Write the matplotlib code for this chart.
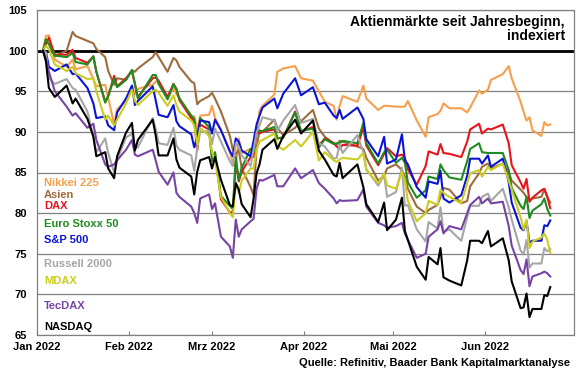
import pandas as pd
import matplotlib.pyplot as plt
import matplotlib.dates as mdates

dates = pd.to_datetime([
    "2022-01-03", "2022-01-04", "2022-01-05", "2022-01-07", "2022-01-11", "2022-01-13", "2022-01-14",
    "2022-01-18", "2022-01-20", "2022-01-21", "2022-01-24", "2022-01-25", "2022-01-27", "2022-01-28",
    "2022-01-31",
    "2022-02-02", "2022-02-03", "2022-02-04", "2022-02-09", "2022-02-10", "2022-02-11", "2022-02-14",
    "2022-02-16", "2022-02-17", "2022-02-18", "2022-02-22", "2022-02-23", "2022-02-24", "2022-02-25",
    "2022-02-28",
    "2022-03-01", "2022-03-02", "2022-03-04", "2022-03-07", "2022-03-08", "2022-03-09", "2022-03-10",
    "2022-03-11", "2022-03-14", "2022-03-15", "2022-03-16", "2022-03-17", "2022-03-18", "2022-03-22",
    "2022-03-23", "2022-03-25", "2022-03-29", "2022-03-31",
    "2022-04-04", "2022-04-06", "2022-04-08", "2022-04-11", "2022-04-12", "2022-04-13", "2022-04-14",
    "2022-04-19", "2022-04-21", "2022-04-22", "2022-04-26", "2022-04-28", "2022-04-29",
    "2022-05-02", "2022-05-04", "2022-05-05", "2022-05-06", "2022-05-09", "2022-05-12", "2022-05-13",
    "2022-05-16", "2022-05-17", "2022-05-18", "2022-05-20", "2022-05-24", "2022-05-26", "2022-05-27",
    "2022-05-30", "2022-05-31",
    "2022-06-02", "2022-06-03", "2022-06-07", "2022-06-09", "2022-06-10", "2022-06-13", "2022-06-14",
    "2022-06-15", "2022-06-16", "2022-06-17", "2022-06-20", "2022-06-21", "2022-06-22", "2022-06-23",
])

nikkei = [100, 101.8, 101.9, 98.9, 98.0, 98.9, 97.7, 98.1, 96.5, 95.6, 95.8, 94.2, 90.9, 92.8, 93.8,
          95.6, 94.6, 95.3, 95.8, 96.2, 96.2, 94.1, 95.4, 94.6, 94.2, 91.9, 91.9, 90.2, 92.0, 92.1,
          93.2, 91.7, 90.3, 87.6, 86.1, 85.8, 89.2, 87.4, 87.9, 88.0, 89.5, 92.6, 93.2, 94.6, 97.4, 97.8, 98.1, 96.6,
          96.3, 95.0, 93.7, 93.2, 91.5, 93.2, 94.4, 93.7, 95.7, 94.1, 92.7, 93.2, 93.2,
          93.1, 93.1, 93.1, 93.8, 91.4, 89.4, 91.8, 92.2, 92.6, 93.5, 92.9, 92.9, 92.4, 93.0, 95.1, 94.7,
          95.2, 96.4, 97.1, 98.1, 96.6, 93.7, 92.5, 91.4, 91.8, 90.2, 89.5, 91.2, 90.8, 90.9]

asien = [100, 101.0, 100.9, 99.3, 100.0, 102.3, 101.8, 101.2, 100.9, 100.2, 99.2, 97.5, 95.8, 96.6, 96.4,
         97.6, 97.4, 97.8, 99.2, 99.8, 99.2, 97.4, 99.1, 98.8, 98.0, 96.2, 96.0, 93.4, 93.8, 94.4,
         94.8, 94.1, 92.5, 89.5, 87.8, 87.2, 87.8, 85.5, 83.2, 82.2, 88.0, 90.2, 90.0, 91.5, 90.5, 89.6, 90.5, 91.3,
         92.7, 90.4, 89.4, 88.6, 88.4, 88.9, 88.8, 88.2, 87.9, 86.8, 84.0, 84.6, 85.5,
         86.0, 85.3, 84.5, 83.0, 80.8, 80.0, 80.4, 81.0, 82.0, 83.1, 82.9, 81.2, 81.5, 83.3, 84.9, 85.7,
         86.1, 85.5, 86.1, 85.0, 84.0, 82.9, 82.5, 82.0, 81.6, 81.8, 82.0, 82.9, 82.0, 81.3]

dax = [100, 100.8, 101.6, 99.5, 99.5, 100.1, 99.1, 98.5, 99.3, 97.4, 93.7, 94.4, 96.9, 95.6, 96.6,
       97.5, 95.9, 94.3, 96.6, 96.7, 96.3, 94.3, 95.9, 95.3, 93.9, 91.7, 91.3, 87.7, 90.9, 90.3,
       86.8, 87.4, 81.7, 80.1, 80.1, 86.4, 83.9, 85.1, 86.9, 86.9, 90.1, 89.8, 90.0, 90.3, 89.2, 89.3, 92.5, 90.0,
       90.6, 88.3, 89.2, 88.6, 88.2, 87.9, 88.4, 88.3, 90.5, 88.3, 85.9, 87.3, 88.0,
       87.0, 87.2, 86.8, 85.4, 83.5, 85.8, 87.6, 87.2, 88.5, 87.4, 87.3, 86.9, 88.8, 90.3, 91.0, 89.8,
       90.4, 90.3, 90.9, 88.6, 85.9, 83.8, 83.0, 84.2, 81.4, 81.9, 82.8, 83.0, 82.0, 80.6]

eurostoxx = [100, 101.4, 100.8, 99.4, 99.2, 99.7, 98.6, 98.3, 99.3, 97.4, 93.6, 94.4, 96.6, 95.5, 96.4,
             97.6, 95.9, 94.1, 97.0, 97.0, 95.9, 94.0, 95.9, 95.2, 94.1, 92.0, 91.6, 88.4, 91.7, 90.6,
             86.4, 87.5, 82.1, 80.9, 80.5, 86.9, 84.1, 85.6, 87.9, 87.5, 90.5, 90.1, 90.1, 90.6, 89.2, 89.3, 92.4, 90.1,
             90.4, 88.1, 89.1, 88.5, 88.6, 88.6, 88.9, 88.6, 91.1, 88.6, 86.1, 87.5, 87.8,
             86.2, 86.8, 86.2, 83.8, 81.9, 82.8, 84.5, 84.2, 86.0, 85.3, 84.4, 84.1, 86.4, 87.9, 88.6, 87.5,
             87.4, 87.4, 87.4, 85.3, 83.1, 80.9, 80.5, 82.0, 79.4, 80.3, 81.1, 81.8, 80.5, 79.7]

sp500 = [100, 99.9, 98.0, 97.5, 98.3, 97.1, 97.2, 95.4, 93.5, 91.7, 91.9, 90.8, 90.2, 92.4, 94.1,
         95.7, 93.3, 93.8, 95.6, 93.9, 92.1, 91.8, 93.3, 91.3, 90.7, 89.7, 88.1, 89.4, 91.4, 91.2,
         89.8, 91.5, 90.2, 87.6, 87.0, 89.2, 88.8, 87.7, 87.0, 88.9, 90.9, 92.0, 93.0, 94.1, 92.9, 94.7, 96.6, 94.5,
         95.5, 93.4, 93.6, 92.0, 91.7, 92.7, 91.6, 93.0, 91.6, 89.1, 87.0, 89.4, 86.1,
         86.6, 89.7, 86.5, 86.0, 83.2, 81.9, 83.9, 83.6, 85.2, 81.8, 81.3, 82.2, 84.6, 86.7, 86.7, 86.1,
         87.1, 85.7, 86.7, 83.8, 81.3, 78.2, 77.9, 79.0, 76.4, 76.6, 76.6, 78.5, 78.4, 79.1]

russell = [100, 99.8, 96.6, 95.9, 96.5, 95.4, 95.2, 92.5, 89.4, 87.5, 89.2, 87.4, 85.0, 86.6, 89.3,
           89.8, 88.1, 88.1, 91.7, 90.4, 88.6, 88.4, 90.5, 88.3, 87.8, 87.1, 85.2, 88.0, 90.0, 90.1,
           88.5, 90.4, 88.8, 86.4, 85.8, 88.6, 88.2, 87.1, 85.8, 87.8, 89.9, 90.8, 91.8, 91.4, 90.1, 91.4, 93.3, 91.1,
           91.6, 88.6, 88.2, 86.7, 86.8, 88.5, 87.4, 89.6, 87.5, 85.4, 83.4, 84.7, 82.0,
           82.6, 85.6, 80.9, 81.0, 78.0, 76.5, 78.9, 78.1, 80.7, 77.7, 78.0, 76.6, 79.5, 80.9, 80.9, 82.0,
           82.4, 81.5, 83.0, 80.7, 79.2, 75.4, 74.9, 76.7, 73.3, 73.8, 73.8, 75.7, 75.3, 75.6]

mdax = [100, 100.6, 100.2, 98.3, 97.5, 98.0, 97.2, 96.5, 96.6, 95.0, 91.5, 92.0, 90.8, 91.5, 93.5,
        95.2, 93.8, 93.3, 95.0, 95.2, 94.8, 93.2, 94.5, 93.3, 92.5, 91.4, 90.8, 88.5, 90.5, 89.5,
        87.5, 86.5, 82.0, 80.0, 79.5, 83.7, 82.5, 84.0, 85.5, 85.5, 87.8, 88.8, 89.0, 89.8, 88.3, 87.8, 89.0, 88.2,
        90.0, 86.5, 87.5, 86.5, 86.3, 86.6, 86.8, 86.6, 87.4, 85.3, 83.7, 84.9, 83.4,
        83.0, 85.1, 84.0, 81.5, 79.0, 80.0, 81.5, 81.0, 82.9, 82.5, 82.0, 81.2, 83.7, 84.9, 85.3, 84.5,
        85.7, 85.3, 86.1, 84.0, 82.9, 79.5, 78.0, 79.2, 75.7, 76.5, 77.0, 77.5, 76.7, 75.1]

tecdax = [100, 99.0, 97.4, 95.0, 93.1, 92.0, 92.3, 90.5, 91.0, 89.0, 86.0, 85.7, 86.0, 86.5, 87.8,
          89.0, 87.2, 87.0, 87.8, 86.5, 85.1, 83.5, 85.0, 82.5, 82.0, 80.8, 80.0, 78.8, 81.8, 82.3,
          80.5, 81.2, 77.1, 75.9, 74.5, 79.2, 77.1, 78.0, 79.0, 79.3, 83.0, 84.1, 84.0, 84.7, 83.3, 83.3, 85.5, 84.3,
          85.3, 83.7, 83.0, 81.8, 81.2, 81.6, 81.5, 81.6, 82.9, 80.8, 78.8, 78.5, 78.2,
          78.4, 78.8, 77.5, 76.7, 74.5, 75.0, 77.1, 78.0, 79.0, 77.5, 78.4, 78.0, 80.0, 81.0, 82.0, 81.2,
          81.8, 81.2, 81.4, 78.4, 76.0, 73.0, 72.5, 74.3, 71.0, 72.2, 72.6, 72.8, 72.6, 72.2]

nasdaq = [100, 98.7, 95.4, 94.3, 95.7, 93.5, 94.1, 91.6, 89.4, 87.0, 87.5, 85.5, 84.3, 87.0, 89.9,
          91.1, 87.7, 89.0, 91.5, 89.6, 87.1, 87.1, 89.2, 86.6, 85.6, 84.5, 82.3, 85.1, 86.5, 86.9,
          85.5, 86.9, 84.1, 81.0, 80.8, 83.7, 82.9, 81.1, 79.5, 81.8, 84.9, 86.0, 87.8, 89.1, 87.9, 89.5, 91.5, 89.8,
          91.4, 87.7, 86.6, 84.7, 84.5, 86.2, 84.3, 86.0, 83.2, 81.1, 78.9, 81.3, 77.9,
          79.2, 81.9, 77.8, 76.7, 73.4, 71.8, 74.6, 73.7, 75.7, 72.1, 71.7, 71.1, 74.2, 76.6, 76.6, 76.3,
          77.8, 75.9, 76.9, 74.2, 71.6, 68.3, 68.4, 70.1, 67.2, 68.2, 68.2, 69.9, 69.8, 70.9]

names = ["Nikkei 225", "Asien", "DAX", "Euro Stoxx 50", "S&P 500",
         "Russell 2000", "MDAX", "TecDAX", "NASDAQ"]
series = [nikkei, asien, dax, eurostoxx, sp500, russell, mdax, tecdax, nasdaq]
colors = ["#F6A04D", "#9E6B3D", "#E8141B", "#1E8C1E", "#0A14D6",
          "#A6A6A6", "#CCCC22", "#7744A6", "#000000"]
label_y = [83.7, 82.2, 80.9, 78.7, 76.7, 73.7, 71.6, 68.6, 66.0]

month_ticks = pd.to_datetime(["2022-01-01", "2022-02-01", "2022-03-01",
                              "2022-04-01", "2022-05-01", "2022-06-01"])
month_labels = ["Jan 2022", "Feb 2022", "Mrz 2022", "Apr 2022", "Mai 2022", "Jun 2022"]

plt.rcParams['font.family'] = ['Liberation Sans', 'DejaVu Sans']
plt.rcParams['font.weight'] = 'bold'

fig = plt.figure(figsize=(5.8, 3.75), dpi=100)
ax = fig.add_axes([37 / 580, 40 / 375, 537 / 580, 325 / 375])

for s, c in zip(series, colors):
    ax.plot(dates, s, color=c, lw=1.5, zorder=3)

ax.axhline(100, color="black", lw=2, zorder=2)

ax.set_ylim(65, 105)
ax.set_yticks(range(65, 106, 5))
ax.yaxis.grid(True, color="#808080", lw=0.9)
ax.set_axisbelow(True)

ax.set_xlim(pd.Timestamp("2022-01-01"), pd.Timestamp("2022-07-01"))
ax.set_xticks(month_ticks)
ax.set_xticklabels(month_labels)

for sp in ax.spines.values():
    sp.set_color("#808080")
    sp.set_linewidth(0.9)

ax.tick_params(axis="y", length=0, pad=7, labelsize=8)
ax.tick_params(axis="x", direction="in", length=3, color="#808080", pad=5, labelsize=8)

for name, c, yy in zip(names, colors, label_y):
    ax.text(0.013, yy, name, color=c, fontsize=8, fontweight="bold",
            va="center", ha="left", transform=ax.get_yaxis_transform())

ax.text(0.983, 102.65, "Aktienmärkte seit Jahresbeginn,\nindexiert", ha="right", va="center",
        fontsize=10, fontweight="bold", linespacing=1.05, transform=ax.get_yaxis_transform())

fig.text(570 / 580, 1 - 363 / 375, "Quelle: Refinitiv, Baader Bank Kapitalmarktanalyse",
         ha="right", va="center", fontsize=8, fontweight="bold")

fig.savefig("out.png", dpi=100)
